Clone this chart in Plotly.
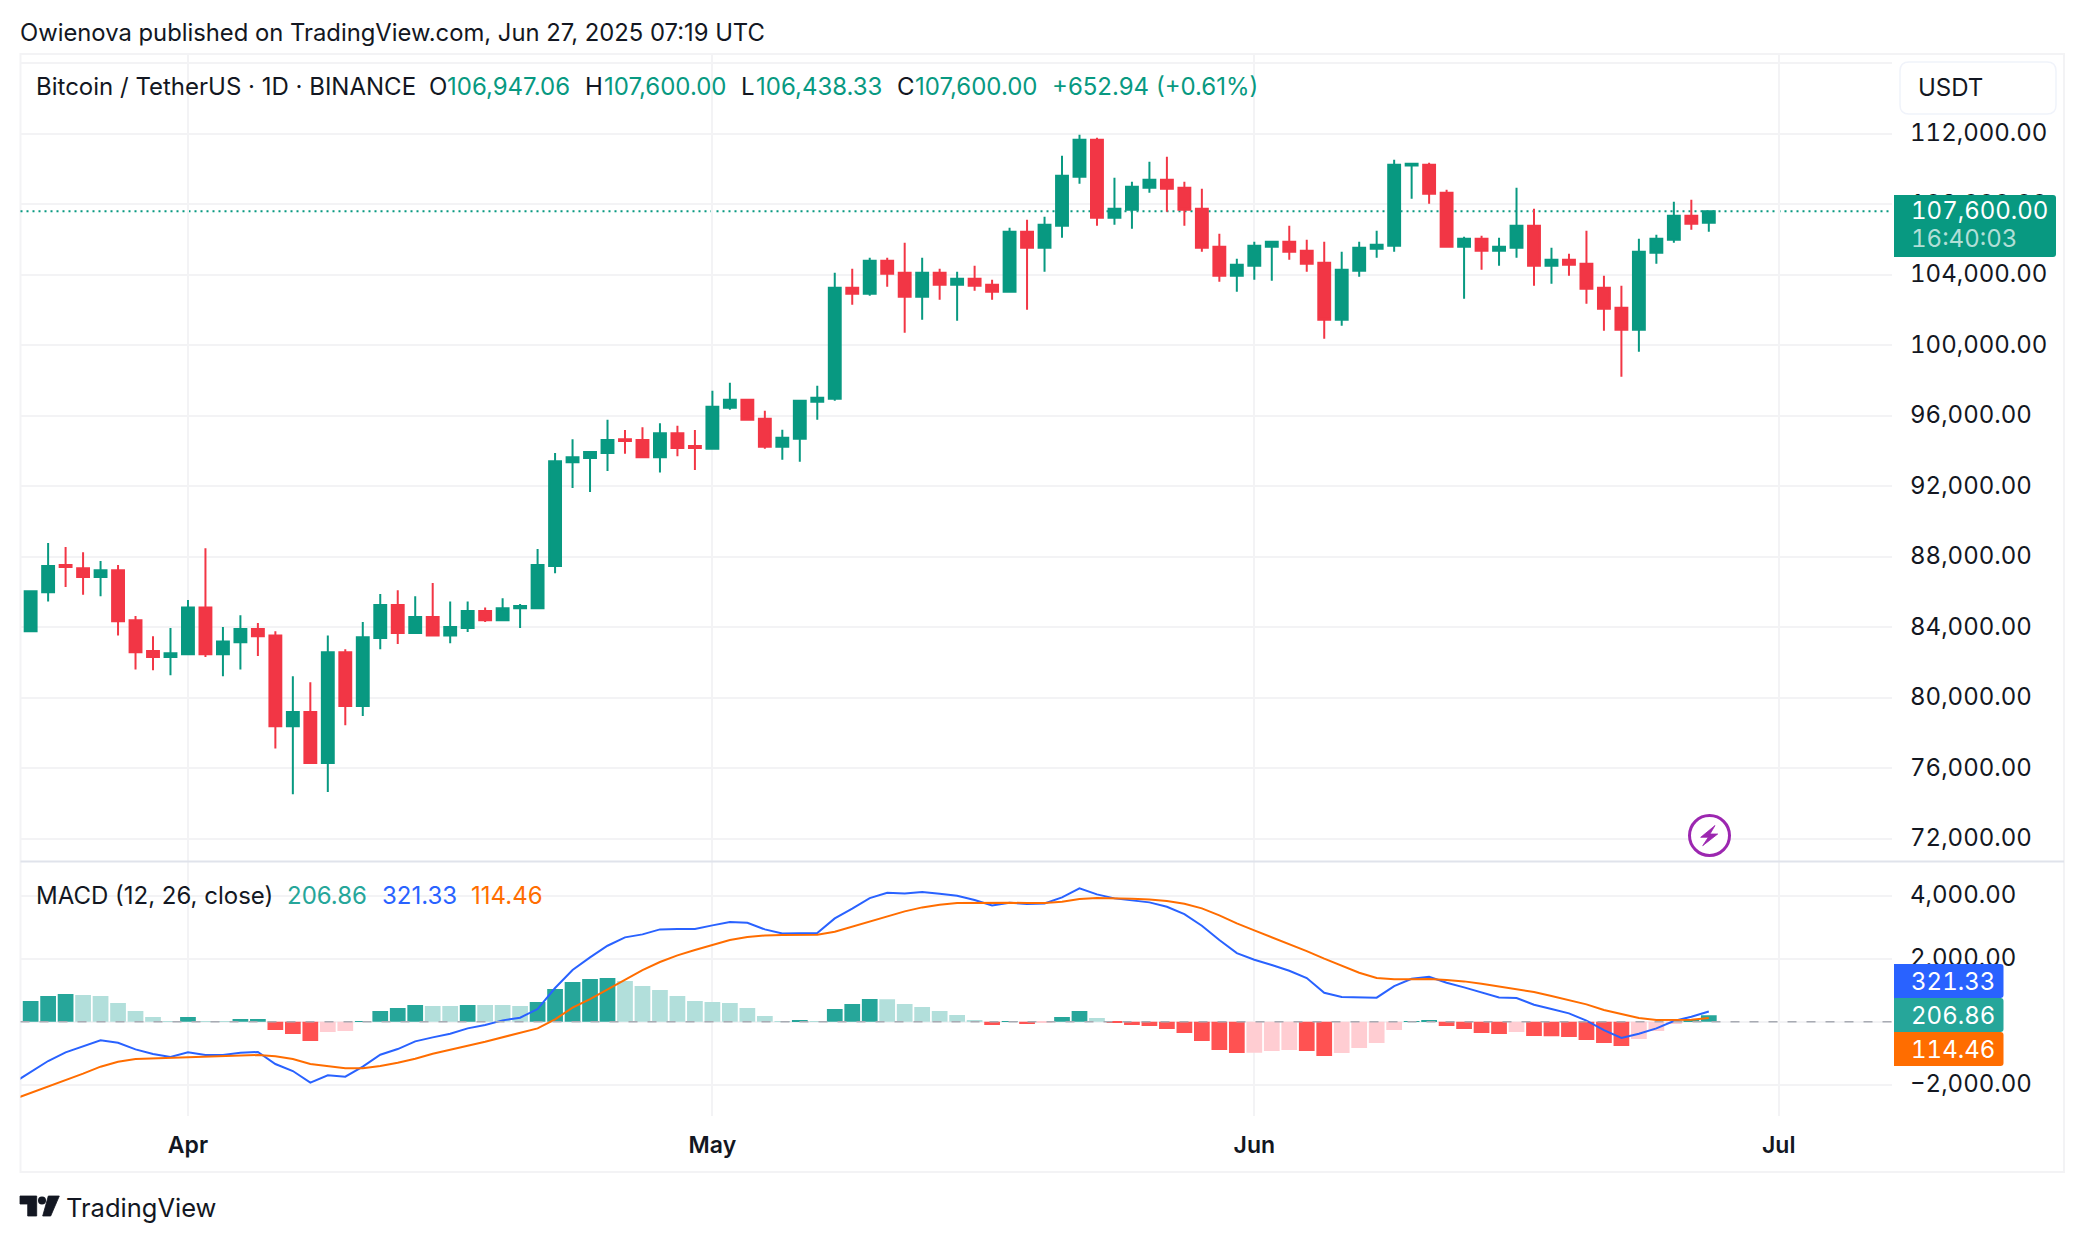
import pandas as pd
import plotly.graph_objects as go

W, H = 2084, 1242
FONT = "Inter"
TEXT = "#131722"
UP, DOWN = "#089981", "#f23645"
GRID = "#f3f3f5"

# daily candles, 23 Mar - 27 Jun 2025
dates = pd.date_range("2025-03-23", periods=97)
opens = [83780, 85990, 87530, 87350, 86850, 87240, 84400, 82660, 82320,
         82470, 85130, 82470, 83150, 83910, 83540, 78380, 79190, 76300, 82580,
         79530, 83390, 85260, 83670, 84590, 83540, 83960, 84920, 84400, 85080,
         85080, 87480, 93370, 93600, 93890, 94670, 94620, 93650, 95010, 94280,
         94130, 96460, 96910, 95830, 94240, 94700, 96800, 96970, 103260, 102920,
         104800, 104120, 102750, 104120, 103430, 103770, 103430, 103040, 106440, 105530,
         106780, 109560, 111660, 107240, 107690, 108940, 109390, 108940, 107750, 105590, 103940,
         104510, 105590, 105870, 105360, 104680, 101450, 104230, 105480, 105650, 110200,
         110240, 108650, 105590, 106040, 105360, 105530, 106780, 104510, 104850, 104630,
         103260, 102130, 100880, 105250, 105990, 107350, 106947.06]
highs = [86100, 88780, 88550, 88260, 87760, 87530, 84640, 83490, 83960,
         85550, 88490, 84010, 84690, 84250, 83780, 81220, 80880, 83540, 82760,
         84300, 85890, 86100, 85760, 86510, 85470, 85470, 85130, 85650, 85320,
         88440, 93890, 94670, 93990, 95770, 95190, 95350, 95580, 95430, 95190,
         97420, 97870, 96910, 96290, 95210, 96910, 97700, 104120, 104340, 104970,
         104970, 105820, 104970, 104340, 104170, 104510, 103720, 106670, 107120, 107290,
         110750, 111940, 111770, 109500, 109280, 110410, 110700, 109280, 108880, 106330, 104910,
         105870, 105930, 106780, 105990, 105870, 105310, 105870, 106500, 110530, 110340,
         110360, 108820, 106160, 106210, 106100, 108940, 107750, 105530, 105190, 106500,
         103940, 103380, 106040, 106270, 108140, 108260, 107600.00]
lows = [83770, 85470, 86280, 85840, 85760, 83540, 81610, 81560, 81280,
        82420, 82320, 81220, 81610, 82370, 77130, 74530, 76250, 74660, 78440,
        78960, 82760, 83050, 83670, 83540, 83100, 83730, 84300, 84350, 83960,
        85080, 87060, 91910, 91670, 92870, 93840, 93600, 92790, 93710, 92920,
        94130, 96340, 95770, 94130, 93510, 93390, 95770, 96850, 102300, 102810,
        103320, 100710, 101450, 102580, 101390, 103090, 102580, 103040, 102020, 104170,
        106100, 109160, 106780, 106840, 106610, 108650, 107580, 106780, 105310, 103600, 103040,
        103720, 103660, 104850, 104170, 100370, 101110, 103890, 104970, 105310, 108310,
        108030, 105590, 102640, 104290, 104510, 104970, 103380, 103490, 103940, 102360,
        100820, 98220, 99630, 104630, 105820, 106550, 106438.33]
closes = [86040, 87480, 87420, 86850, 87240, 84350, 82580, 82320, 82530,
          85130, 82470, 83200, 83910, 83490, 78380, 79190, 76300, 82580, 79530,
          83440, 85260, 83670, 84590, 83540, 84010, 84920, 84400, 85080, 85210,
          87530, 93420, 93650, 93940, 94620, 94570, 93650, 95010, 94180, 94180,
          96510, 96910, 95770, 94240, 94750, 96850, 97020, 103260, 102920, 104800,
          104060, 102750, 104120, 103430, 103770, 103380, 103040, 106440, 105530, 106840,
          109620, 111660, 107240, 107750, 108990, 109390, 108880, 107690, 105530, 103940, 104570,
          105650, 105870, 105310, 104630, 101450, 104290, 105530, 105700, 110240, 110300,
          108600, 105590, 106040, 105360, 105590, 106780, 104510, 104850, 104570, 103210,
          102070, 100880, 105310, 106040, 107350, 106890, 107600.00]

# MACD pane, lines start one day earlier at the left edge
macd_dates = pd.date_range("2025-03-22", periods=98)
macd_line = [-1947, -1608, -1248, -973, -794, -592, -667, -878, -1026, -1121,
             -973, -1058, -1058, -984, -963, -1344, -1566, -1936, -1703, -1746,
             -1428, -1047, -868, -624, -497, -381, -212, -106, 42, 127,
             402, 1069, 1640, 2042, 2412, 2677, 2772, 2931, 2941, 2941,
             3058, 3163, 3142, 2931, 2804, 2814, 2814, 3280, 3587, 3925,
             4094, 4073, 4116, 4063, 3999, 3862, 3692, 3777, 3735, 3756,
             3946, 4232, 4042, 3915, 3851, 3788, 3650, 3417, 3047, 2592, 2179,
             1968, 1799, 1619, 1386, 920, 783, 762, 762, 1132, 1365,
             1428, 1238, 1090, 920, 772, 751, 540, 402, 265, 32,
             -265, -518, -381, -212, 21, 159, 321.33]
signal_line = [-2465, -2264, -2063, -1852, -1650, -1428, -1270, -1185, -1164, -1153,
               -1121, -1111, -1100, -1079, -1058, -1100, -1185, -1344, -1418, -1481,
               -1481, -1407, -1301, -1174, -1016, -899, -762, -635, -497, -370,
               -212, 74, 444, 719, 1026, 1323, 1640, 1894, 2105, 2275,
               2444, 2592, 2687, 2740, 2751, 2751, 2761, 2857, 3015, 3195,
               3354, 3502, 3629, 3714, 3766, 3777, 3766, 3777, 3766, 3766,
               3809, 3893, 3925, 3925, 3904, 3883, 3830, 3745, 3597, 3375, 3121,
               2899, 2687, 2476, 2243, 2000, 1767, 1555, 1386, 1344, 1344,
               1354, 1323, 1280, 1206, 1121, 1047, 942, 815, 688, 550,
               370, 233, 116, 53, 53, 63, 114.46]
hist = [656, 815, 878, 846, 815, 592, 339, 148, 21,
        148, 21, 20, 85, 86, -265, -391, -614, -328, -296,
        21, 339, 434, 529, 497, 495, 529, 528, 527, 497,
        624, 1037, 1259, 1354, 1386, 1291, 1132, 1005, 815, 656,
        624, 592, 434, 180, 21, 53, 21, 402, 561, 719,
        710, 561, 466, 339, 212, 53, -106, 21, -74, -42,
        148, 339, 116, -42, -106, -138, -233, -360, -614, -899, -995,
        -985, -931, -899, -931, -1090, -995, -836, -677, -265, 21,
        53, -138, -233, -360, -391, -328, -455, -460, -487, -582,
        -677, -772, -550, -296, -74, 53, 206.86]

price_ticks = [72000, 76000, 80000, 84000, 88000, 92000, 96000, 100000, 104000, 108000, 112000, 116000]
price_labels = ["72,000.00", "76,000.00", "80,000.00", "84,000.00", "88,000.00", "92,000.00",
                "96,000.00", "100,000.00", "104,000.00", "108,000.00", "112,000.00", ""]
macd_ticks = [-2000, 0, 2000, 4000]
macd_labels = ["\u22122,000.00", "", "2,000.00", "4,000.00"]
month_ticks = ["2025-04-01", "2025-05-01", "2025-06-01", "2025-07-01"]
month_labels = ["Apr", "May", "Jun", "Jul"]

assert len(opens) == len(highs) == len(lows) == len(closes) == len(hist) == 97
assert len(macd_line) == len(signal_line) == 98


def px(x):
    return x / W


def py(y):
    return 1 - y / H


def hist_color(i):
    prev = hist[i - 1] if i else float("-inf")
    if hist[i] >= 0:
        return "#26a69a" if hist[i] >= prev else "#b2dfdb"
    return "#ffcdd2" if hist[i] > prev else "#ff5252"


def note(x, y, text, color=TEXT, size=24, **kw):
    # annotations sit about 2.7px right of their anchor
    return dict(xref="paper", yref="paper", x=px(x - 2.7), y=py(y), text=text, showarrow=False,
                xanchor="left", yanchor="middle",
                font=dict(family=FONT, size=size, color=color), **kw)


def box(x0, y0, x1, y1, fill, line="rgba(0,0,0,0)", r=0, r_left=0):
    # rounded rectangle in page pixels
    path = (f"M{px(x0 + r_left)},{py(y0)} L{px(x1 - r)},{py(y0)} Q{px(x1)},{py(y0)} {px(x1)},{py(y0 + r)} "
            f"L{px(x1)},{py(y1 - r)} Q{px(x1)},{py(y1)} {px(x1 - r)},{py(y1)} L{px(x0 + r_left)},{py(y1)} "
            f"Q{px(x0)},{py(y1)} {px(x0)},{py(y1 - r_left)} L{px(x0)},{py(y0 + r_left)} "
            f"Q{px(x0)},{py(y0)} {px(x0 + r_left)},{py(y0)} Z")
    return dict(type="path", xref="paper", yref="paper", path=path, fillcolor=fill,
                line=dict(color=line, width=1.5))


def poly(points, fill):
    path = "M" + " L".join(f"{px(x)},{py(y)}" for x, y in points) + " Z"
    return dict(type="path", xref="paper", yref="paper", path=path, fillcolor=fill,
                line=dict(color=fill, width=0.8))


fig = go.Figure()

fig.add_trace(go.Candlestick(x=dates, open=opens, high=highs, low=lows, close=closes,
                             increasing=dict(line=dict(color=UP, width=2), fillcolor=UP),
                             decreasing=dict(line=dict(color=DOWN, width=2), fillcolor=DOWN),
                             whiskerwidth=0, showlegend=False, yaxis="y"))
fig.add_trace(go.Bar(x=dates, y=hist, marker=dict(color=[hist_color(i) for i in range(len(hist))], line=dict(width=0)),
                     showlegend=False, yaxis="y2"))
fig.add_trace(go.Scatter(x=macd_dates, y=macd_line, mode="lines", line=dict(color="#2962ff", width=2),
                         showlegend=False, yaxis="y2"))
fig.add_trace(go.Scatter(x=macd_dates, y=signal_line, mode="lines", line=dict(color="#ff6d00", width=2),
                         showlegend=False, yaxis="y2"))

shapes = [
    # outer frame and pane separator
    dict(type="rect", xref="paper", yref="paper", x0=px(20.5), x1=px(2064), y0=py(1172), y1=py(54),
         line=dict(color=GRID, width=2), layer="below"),
    dict(type="line", xref="paper", yref="paper", x0=px(20.5), x1=px(2064), y0=py(861.5), y1=py(861.5),
         line=dict(color="#e0e3eb", width=2)),
    # last price and zero lines
    dict(type="line", xref="x domain", yref="y", x0=0, x1=1, y0=closes[-1], y1=closes[-1],
         line=dict(color=UP, width=2, dash="2px,4px"), layer="below"),
    dict(type="line", xref="x domain", yref="y2", x0=0, x1=1, y0=0, y1=0,
         line=dict(color="#a8abb3", width=1.5, dash="9px,10px")),
    # scale boxes
    box(1900, 62, 2056, 114, "#ffffff", line="#f0f3fa", r=9, r_left=9),
    box(1894, 195, 2056, 257, UP, r=3),
    box(1894, 964, 2003.5, 998, "#2962ff", r=3),
    box(1894, 998, 2003.5, 1032, "#26a69a", r=3),
    box(1894, 1032, 2003.5, 1066, "#ff6d00", r=3),
    # lightning badge
    dict(type="circle", xref="paper", yref="paper", x0=px(1689.5), x1=px(1729.5), y0=py(855.5), y1=py(815.5),
         fillcolor="#ffffff", line=dict(color="#9c27b0", width=3)),
    poly([(1715, 825.5), (1700.7, 837.3), (1708.3, 837.3), (1702.7, 845.7), (1717.7, 834), (1710, 834)], "#9c27b0"),
    # TradingView logo
    poly([(20, 1196), (36.7, 1196), (36.7, 1216), (27.7, 1216), (27.7, 1204), (20, 1204)], "#131722"),
    dict(type="circle", xref="paper", yref="paper", x0=px(38), x1=px(46), y0=py(1204.5), y1=py(1196.5),
         fillcolor="#131722", line=dict(width=0)),
    poly([(48.3, 1196), (59.3, 1196), (50.7, 1216), (42.7, 1216)], "#131722"),
]

# tag texts get a fixed box so the wider digits grow to the right only
tag = dict(width=140, align="left")
annotations = [
    note(20.5, 32.5, "Owienova published on TradingView.com, Jun 27, 2025 07:19 UTC", size=23.8),
    note(36.5, 86.5, "Bitcoin / TetherUS \u00b7 1D \u00b7 BINANCE"),
    note(429.5, 86.5, "O"),
    note(448, 86.5, f"{opens[-1]:,.2f}", UP),
    note(586, 86.5, "H"),
    note(605, 86.5, f"{highs[-1]:,.2f}", UP),
    note(742, 86.5, "L"),
    note(757, 86.5, f"{lows[-1]:,.2f}", UP),
    note(898, 86.5, "C"),
    note(916, 86.5, f"{closes[-1]:,.2f}", UP),
    note(1053, 86.5, "+652.94 (+0.61%)", UP),
    note(36.5, 895, "MACD (12, 26, close)"),
    note(288, 895, f"{hist[-1]:.2f}", "#26a69a"),
    note(383, 895, f"{macd_line[-1]:.2f}", "#2962ff"),
    note(472, 895, f"{signal_line[-1]:.2f}", "#ff6d00"),
    note(1919, 87.5, "USDT"),
    note(1912, 210.5, f"{closes[-1]:,.2f}", "#ffffff", **tag),
    note(1912, 238.5, "16:40:03", "rgba(255,255,255,0.7)", **tag),
    note(1912, 981, f"{macd_line[-1]:.2f}", "#ffffff", **tag),
    note(1912, 1015, f"{hist[-1]:.2f}", "#ffffff", **tag),
    note(1912, 1049, f"{signal_line[-1]:.2f}", "#ffffff", **tag),
    note(66.5, 1207, "TradingView", size=25.5),
]

tick_font = dict(family=FONT, size=24, color=TEXT)
fig.update_layout(
    width=W, height=H, margin=dict(l=0, r=0, t=0, b=0, pad=0),
    paper_bgcolor="#ffffff", plot_bgcolor="#ffffff",
    bargap=0.1, boxgap=0.32, boxgroupgap=0, showlegend=False, dragmode=False,
    shapes=shapes, annotations=annotations,
    xaxis=dict(domain=[px(20.5), px(1892)], anchor="y2", type="date",
               range=["2025-03-22 10:05", "2025-07-07 11:30"],
               rangeslider=dict(visible=False),
               tickmode="array", tickvals=month_ticks, ticktext=month_labels,
               tickfont=dict(family=FONT, size=23, color=TEXT, weight=600),
               ticks="", ticklabelstandoff=13, showgrid=True, gridcolor=GRID, gridwidth=2,
               zeroline=False, showline=False),
    yaxis=dict(domain=[py(861), py(54)], range=[70740, 116528], side="right", anchor="x",
               tickmode="array", tickvals=price_ticks, ticktext=price_labels, tickfont=tick_font,
               ticks="", ticklabelstandoff=17, ticklabelshift=-1, showgrid=True, gridcolor=GRID, gridwidth=2,
               zeroline=False, showline=False),
    yaxis2=dict(domain=[py(1115.7), py(862)], range=[-2984, 5070], side="right", anchor="x",
                tickmode="array", tickvals=macd_ticks, ticktext=macd_labels, tickfont=tick_font,
                ticks="", ticklabelstandoff=17, ticklabelshift=-1, showgrid=True, gridcolor=GRID, gridwidth=2,
                zeroline=False, showline=False),
)

# page margin off; price scale and its tags use fixed-width digits like the original
tag_css = ",".join(f".annotation[data-index=\"{i}\"] text" for i in range(16, 21))
page_js = ("document.body.style.margin='0';document.body.style.overflow='hidden';"
           "var s=document.createElement('style');"
           f"s.textContent='.yaxislayer-above text,{tag_css}{{font-variant-numeric:tabular-nums !important}}';"
           "document.head.appendChild(s);")
fig.write_html("out.html", config=dict(displayModeBar=False), post_script=page_js)
